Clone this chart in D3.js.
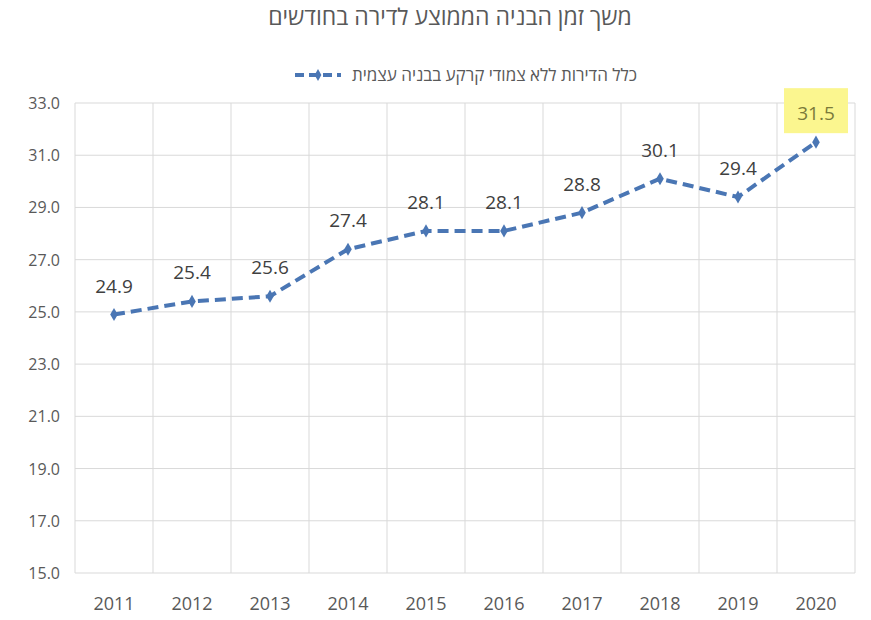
<!DOCTYPE html>
<meta charset="utf-8">
<style>
body { margin: 0; background: #fff; }
text { font-family: "Open Sans", "Noto Sans", sans-serif; fill: #595959; }
.grid line { stroke: #d9d9d9; stroke-width: 1; }
</style>
<svg width="871" height="620" id="chart"></svg>
<script src="https://d3js.org/d3.v7.min.js"></script>
<script>

var years = ["2011", "2012", "2013", "2014", "2015", "2016", "2017", "2018", "2019", "2020"];
var months = [24.9, 25.4, 25.6, 27.4, 28.1, 28.1, 28.8, 30.1, 29.4, 31.5];
var yTicks = [15, 17, 19, 21, 23, 25, 27, 29, 31, 33];
var title = "משך זמן הבניה הממוצע לדירה בחודשים";
var seriesName = "כלל הדירות ללא צמודי קרקע בבניה עצמית";

var svg = d3.select("#chart"),
    plotLeft = 75, plotRight = 855, plotTop = 103, plotBottom = 573;

var x = d3.scaleBand().domain(years).range([plotLeft, plotRight]);
var y = d3.scaleLinear().domain([15, 33]).range([plotBottom, plotTop]);
var blue = "#4a76b4";

// title
svg.append("text")
    .attr("x", 450).attr("y", 25)
    .attr("text-anchor", "middle")
    .attr("direction", "rtl")
    .style("font-size", "23px")
    .text(title);

// legend
var lg = svg.append("g");
lg.append("line")
    .attr("x1", 295).attr("x2", 341).attr("y1", 75).attr("y2", 75)
    .attr("stroke", blue).attr("stroke-width", 4).attr("stroke-dasharray", "9,5");
lg.append("path")
    .attr("d", d3.symbol(d3.symbolDiamond, 40)())
    .attr("transform", "translate(318,75)")
    .attr("fill", blue);
lg.append("text")
    .attr("x", 637).attr("y", 81)
    .attr("text-anchor", "start")
    .attr("direction", "rtl")
    .style("font-size", "17px")
    .text(seriesName);

// grid
var grid = svg.append("g").attr("class", "grid");
grid.selectAll(".h").data(yTicks).enter().append("line")
    .attr("x1", plotLeft).attr("x2", plotRight)
    .attr("y1", function(d) { return y(d); })
    .attr("y2", function(d) { return y(d); });
grid.selectAll(".v").data(years.concat(["end"])).enter().append("line")
    .attr("x1", function(d, i) { return plotLeft + i * x.bandwidth(); })
    .attr("x2", function(d, i) { return plotLeft + i * x.bandwidth(); })
    .attr("y1", plotTop).attr("y2", plotBottom);

// y axis labels
svg.append("g").selectAll("text").data(yTicks).enter().append("text")
    .attr("x", 60)
    .attr("y", function(d) { return y(d) + 6; })
    .attr("text-anchor", "end")
    .style("font-size", "16px")
    .text(function(d) { return d.toFixed(1); });

// x axis labels
svg.append("g").selectAll("text").data(years).enter().append("text")
    .attr("x", function(d) { return x(d) + x.bandwidth() / 2; })
    .attr("y", 610)
    .attr("text-anchor", "middle")
    .style("font-size", "18px")
    .text(function(d) { return d; });

var pts = years.map(function(d, i) { return {year: d, v: months[i]}; });

// line
svg.append("path")
    .datum(pts)
    .attr("fill", "none")
    .attr("stroke", blue)
    .attr("stroke-width", 4)
    .attr("stroke-dasharray", "11,6")
    .attr("d", d3.line()
        .x(function(d) { return x(d.year) + x.bandwidth() / 2; })
        .y(function(d) { return y(d.v); }));

svg.append("g").selectAll("path").data(pts).enter().append("path")
    .attr("d", d3.symbol(d3.symbolDiamond, 50)())
    .attr("transform", function(d) {
      return "translate(" + (x(d.year) + x.bandwidth() / 2) + "," + y(d.v) + ")";
    })
    .attr("fill", blue);

// highlight behind last label
var last = pts[pts.length - 1];
svg.append("rect")
    .attr("x", x(last.year) + x.bandwidth() / 2 - 32)
    .attr("y", y(last.v) - 54)
    .attr("width", 64).attr("height", 45)
    .attr("fill", "#fbf68f");

// data labels
svg.append("g").selectAll("text").data(pts).enter().append("text")
    .attr("x", function(d) { return x(d.year) + x.bandwidth() / 2; })
    .attr("y", function(d) { return y(d.v) - 22; })
    .attr("text-anchor", "middle")
    .style("font-size", "19px")
    .style("fill", function(d, i) { return i === pts.length - 1 ? "#7a7a3a" : "#404040"; })
    .text(function(d) { return d.v.toFixed(1); });

</script>
